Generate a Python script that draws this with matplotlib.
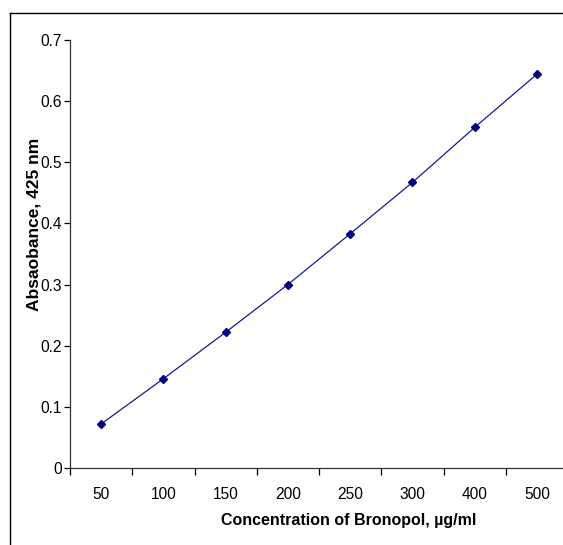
import matplotlib
matplotlib.use("Agg")
import matplotlib.pyplot as plt
from matplotlib.lines import Line2D

categories = ["50", "100", "150", "200", "250", "300", "400", "500"]
absorbance = [0.072, 0.146, 0.222, 0.300, 0.383, 0.467, 0.557, 0.644]
yticks = [0, 0.1, 0.2, 0.3, 0.4, 0.5, 0.6, 0.7]
ytick_labels = ["0", "0.1", "0.2", "0.3", "0.4", "0.5", "0.6", "0.7"]

plt.rcParams['font.family'] = ['Liberation Sans', 'DejaVu Sans']

W, H = 563, 545
fig = plt.figure(figsize=(W/100, H/100), dpi=100)
ax = fig.add_axes([70/W, 1-468/H, 498/W, 428/H])

x = list(range(len(categories)))
ax.plot(x, absorbance, color="#1a1a8c", lw=0.9, marker="D", markersize=4.5,
        markerfacecolor="#000080", markeredgecolor="#000080", zorder=3, clip_on=False)

ax.set_xlim(-0.5, len(categories) - 0.5)
ax.set_ylim(0, 0.7)
ax.set_yticks(yticks)
ax.set_yticklabels(ytick_labels)
ax.set_xticks(x)
ax.set_xticklabels(categories)
ax.set_xticks([i - 0.5 for i in range(len(categories) + 1)], minor=True)
ax.tick_params(axis='x', which='major', length=0, pad=14, labelsize=11.2)
ax.tick_params(axis='x', which='minor', length=5, width=0.9, direction='out')
ax.tick_params(axis='y', length=4, width=0.9, direction='out', pad=2, labelsize=11.2)

for s in ["top", "right"]:
    ax.spines[s].set_visible(False)
for s in ["left", "bottom"]:
    ax.spines[s].set_linewidth(0.9)
    ax.spines[s].set_color("#333333")

ax.set_xlabel("Concentration of Bronopol, µg/ml", fontsize=11.5, fontweight="bold")
ax.set_ylabel("Absaobance, 425 nm", fontsize=12.5, fontweight="bold")

# label positions in pixel-based axes coordinates
ax_w, ax_h = 498, 428
ax.xaxis.set_label_coords((349 - 70) / ax_w, -(521 - 468) / ax_h)
ax.xaxis.label.set_va("center")
ax.yaxis.set_label_coords(-(70 - 34) / ax_w, (468 - 224) / ax_h)
ax.yaxis.label.set_va("center")

# outer frame
fig.add_artist(Line2D([10/W, 1.0], [1-13/H, 1-13/H], transform=fig.transFigure, color="black", lw=1.0))
fig.add_artist(Line2D([10/W, 10/W], [0, 1-13/H], transform=fig.transFigure, color="black", lw=1.0))

fig.savefig("out.png", dpi=100)
